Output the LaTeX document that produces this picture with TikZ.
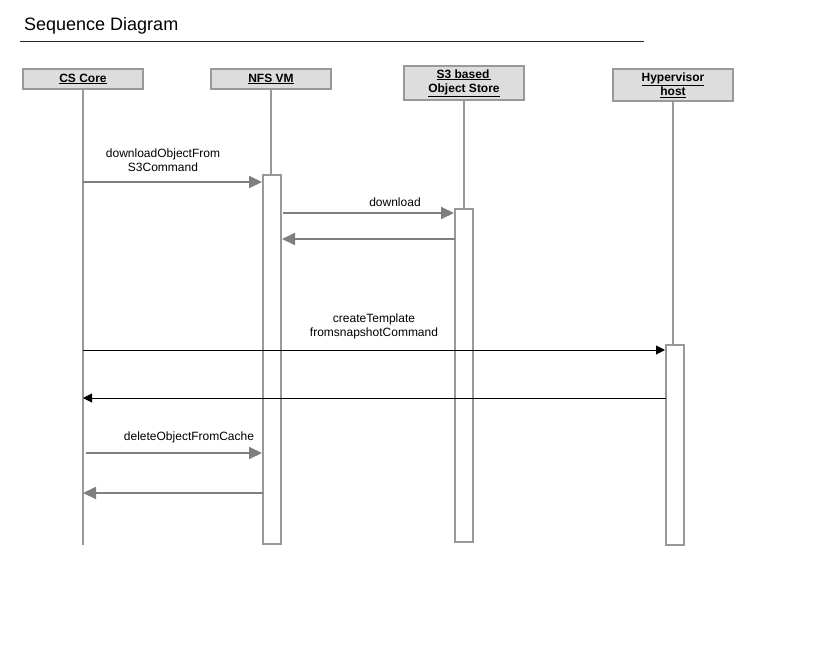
\documentclass[tikz,border=0pt]{standalone}
\usepackage{fontspec}
\setmainfont{Liberation Sans}
\usetikzlibrary{arrows.meta}
\definecolor{boxfill}{HTML}{DDDDDD}
\definecolor{boxline}{HTML}{999999}
\definecolor{msggray}{HTML}{7F7F7F}
\tikzset{
  header/.style={draw=boxline, line width=2pt, fill=boxfill, minimum width=120pt, inner sep=0pt, align=center, font=\bfseries\fontsize{12}{14}\selectfont},
  actbox/.style={draw=boxline, line width=2pt, fill=white, minimum width=18pt, inner sep=0pt},
  lifeline/.style={draw=boxline, line width=2pt},
  graymsg/.style={draw=msggray, line width=2pt, -{Triangle[length=13pt,width=12pt]}, color=msggray},
  blackmsg/.style={draw=black, line width=1pt, -{Triangle[length=9pt,width=9pt]}},
  lbl/.style={font=\fontsize{12}{14}\selectfont, align=center, inner sep=0pt}
}
\begin{document}
\begin{tikzpicture}[x=1pt,y=-1pt]
\useasboundingbox (0,0) rectangle (833,646);
% title
\node[anchor=base west, inner sep=0pt, font=\fontsize{18}{21}\selectfont] (title) at (24,30) {Sequence Diagram};
\coordinate (tl1) at (20,41);
\coordinate (tl2) at (644,41);
\draw[line width=1pt, black!85] (tl1) -- (tl2);
% headers
\node[header, minimum height=20pt] (cs) at (83,79) {\underline{CS Core}};
\node[header, minimum height=20pt] (nfs) at (271,79) {\underline{NFS VM}};
\node[header, minimum height=34pt] (s3) at (464,83) {\underline{S3 based\,}\\\underline{Object Store}};
\node[header, minimum height=32pt] (hv) at (673,85) {\underline{Hypervisor}\\\underline{host}};
% activation boxes
\node[actbox, minimum height=369pt] (nfsact) at (272,359.5) {};
\node[actbox, minimum height=333pt] (s3act) at (464,375.5) {};
\node[actbox, minimum height=200pt] (hvact) at (675,445) {};
% lifelines
\coordinate (csend) at (83,545);
\draw[lifeline] (cs.south) -- (csend);
\draw[lifeline] (nfs.south) -- (nfs.south |- nfsact.north);
\draw[lifeline] (s3.south) -- (s3.south |- s3act.north);
\draw[lifeline] (hv.south) -- (hv.south |- hvact.north);
% messages
\coordinate (m1) at (83,182);
\draw[graymsg] (m1) -- (m1 -| nfsact.west);
\node[lbl] (l1) at (163,160) {downloadObjectFrom\\S3Command};
\coordinate (m2) at (283,213);
\draw[graymsg] (m2) -- (m2 -| s3act.west);
\node[lbl] (l2) at (395,202) {download};
\coordinate (m3) at (455,239);
\draw[graymsg] (m3) -- (m3 -| nfsact.east);
\coordinate (m4) at (83,350);
\draw[blackmsg] (m4) -- (m4 -| hvact.west);
\node[lbl] (l4) at (374,326) {createTemplate\\fromsnapshotCommand};
\coordinate (m5) at (666,398);
\draw[blackmsg] (m5) -- (m5 -| cs.south);
\coordinate (m6) at (86,453);
\draw[graymsg] (m6) -- (m6 -| nfsact.west);
\node[lbl] (l6) at (189,437) {deleteObjectFromCache};
\coordinate (m7) at (263,493);
\draw[graymsg] (m7) -- (m7 -| cs.south);
\end{tikzpicture}
\end{document}
